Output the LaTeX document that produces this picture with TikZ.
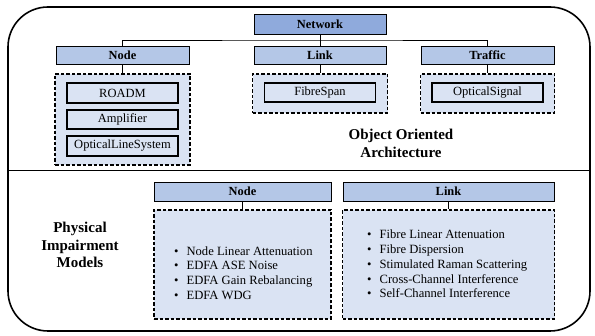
\documentclass[tikz,border=0pt]{standalone}
\usepackage{fontspec}
\setmainfont{Liberation Serif}
\definecolor{hdark}{HTML}{8FAADC}
\definecolor{hmid}{HTML}{B4C7E7}
\definecolor{hlight}{HTML}{DAE3F3}
\begin{document}
\begin{tikzpicture}[x=1pt,y=-1pt,
  txt/.style={font=\fontsize{12.6}{14.8}\selectfont},
  hdr/.style={draw, line width=0.9pt, fill=hmid, inner sep=0pt, font=\fontsize{12.4}{14.7}\selectfont\bfseries},
  cont/.style={draw, line width=1.1pt, dash pattern=on 3.5pt off 2pt, fill=hlight, inner sep=0pt},
  item/.style={draw, line width=1.5pt, fill=hlight, inner sep=0pt, font=\fontsize{12.5}{14.7}\selectfont},
  conn/.style={line width=0.8pt},
  title/.style={font=\fontsize{15}{17.8}\selectfont\bfseries, align=center}]
\useasboundingbox (0,0) rectangle (595,336);
% outer frame
\draw[line width=1.6pt, rounded corners=40pt] (8,7) rectangle (590,331);
\draw[line width=1.6pt] (8,170.5) -- (590,170.5);
% top section
\node[hdr, fill=hdark, minimum width=132pt, minimum height=20pt] (netw) at (320,24) {Network};
\node[hdr, minimum width=133pt, minimum height=18pt] (nodeh) at (122.5,55) {Node};
\node[hdr, minimum width=132pt, minimum height=18pt] (linkh) at (320,55) {Link};
\node[hdr, minimum width=133pt, minimum height=18pt] (trafh) at (487.5,55) {Traffic};
\node[cont, minimum width=135pt, minimum height=91pt] (nodec) at (122.5,119.5) {};
\node[cont, minimum width=135pt, minimum height=39pt] (linkc) at (320,93.5) {};
\node[cont, minimum width=134pt, minimum height=39pt] (trafc) at (487.5,93.5) {};
\node[item, minimum width=111pt, minimum height=20pt] (roadm) at (122.5,93) {ROADM};
\node[item, minimum width=111pt, minimum height=19pt] (ampl) at (122.5,119.5) {Amplifier};
\node[item, minimum width=111pt, minimum height=20pt] (ols) at (122.5,146) {OpticalLineSystem};
\node[item, minimum width=111pt, minimum height=19pt] (fspan) at (320,92.5) {FibreSpan};
\node[item, minimum width=111pt, minimum height=19pt] (osig) at (487.5,92.5) {OpticalSignal};
\coordinate (bus) at (320,40);
\draw[conn] (netw.south) -- (linkh.north);
\draw[conn] (nodeh.north) |- (bus) -| (trafh.north);
\draw[conn] (nodeh.south) -- (nodec.north);
\draw[conn] (linkh.south) -- (linkc.north);
\draw[conn] (trafh.south) -- (trafc.north);
\node[title] (ooa) at (401,143) {Object Oriented\\Architecture};
% bottom section
\node[hdr, minimum width=177pt, minimum height=19pt] (pnodeh) at (242.5,191.5) {Node};
\node[hdr, minimum width=211pt, minimum height=19pt] (plinkh) at (448.5,191.5) {Link};
\node[cont, minimum width=177pt, minimum height=109pt] (pnodec) at (242.5,264.5) {};
\node[cont, minimum width=212pt, minimum height=109pt] (plinkc) at (448.5,264.5) {};
\draw[conn] (pnodeh.south) -- (pnodec.north);
\draw[conn] (plinkh.south) -- (plinkc.north);
\node[txt, anchor=west, align=left, inner sep=0pt] (nlist) at (174,273) {%
\textbullet\hspace{8pt}Node Linear Attenuation\\
\textbullet\hspace{8pt}EDFA ASE Noise\\
\textbullet\hspace{8pt}EDFA Gain Rebalancing\\
\textbullet\hspace{8pt}EDFA WDG};
\node[txt, anchor=west, align=left, inner sep=0pt] (llist) at (367,264) {%
\textbullet\hspace{8pt}Fibre Linear Attenuation\\
\textbullet\hspace{8pt}Fibre Dispersion\\
\textbullet\hspace{8pt}Stimulated Raman Scattering\\
\textbullet\hspace{8pt}Cross-Channel Interference\\
\textbullet\hspace{8pt}Self-Channel Interference};
\node[title] (pim) at (80,245) {Physical\\Impairment\\Models};
\end{tikzpicture}
\end{document}
